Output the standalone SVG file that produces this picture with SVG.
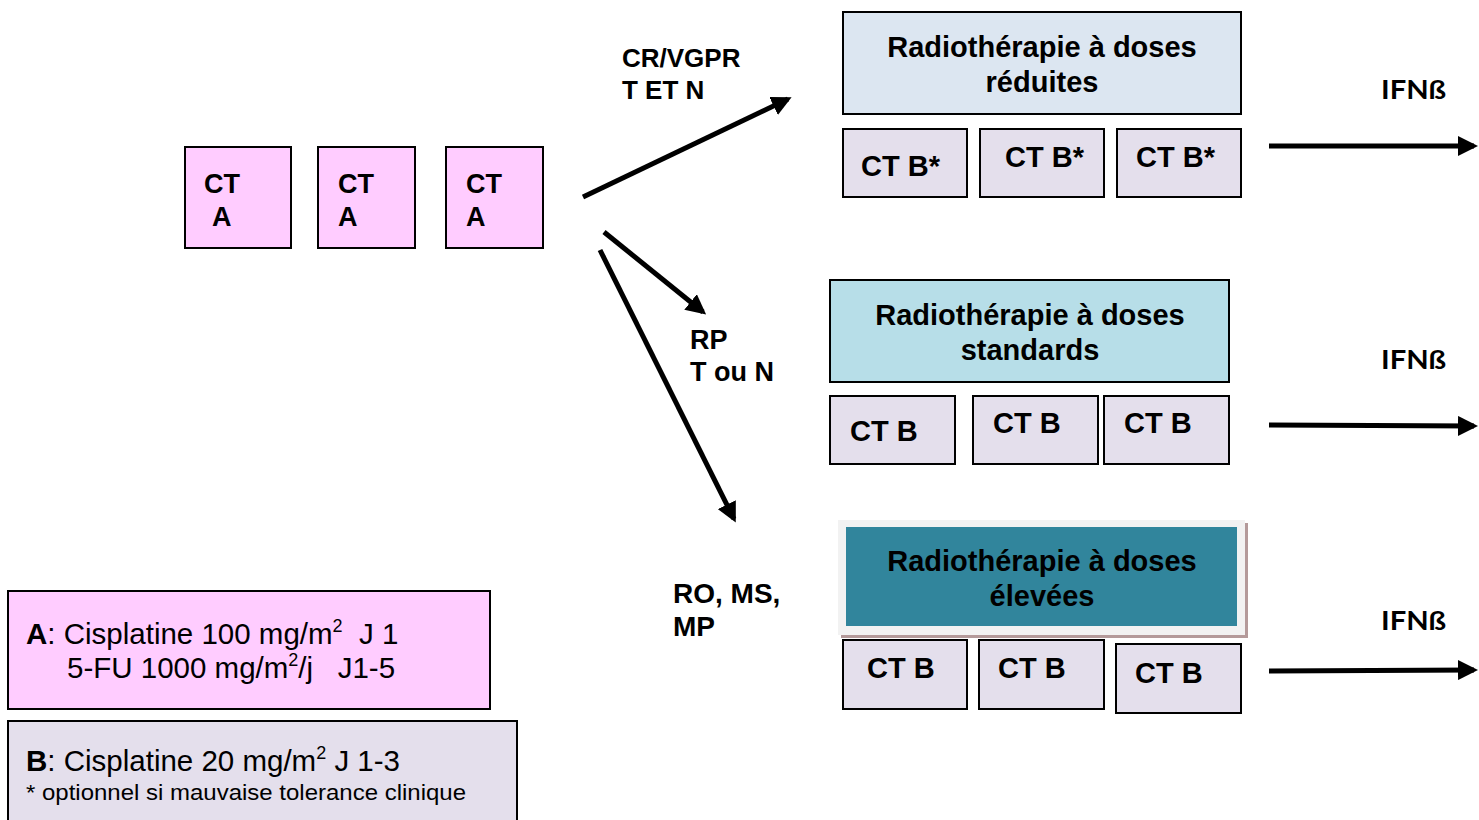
<svg xmlns="http://www.w3.org/2000/svg" width="1479" height="820" viewBox="0 0 1479 820">
<style>
.b{stroke:#000;stroke-width:2}
.pk{fill:#ffccff}
.lv{fill:#e4dfec}
.t{font-family:"Liberation Sans",Arial,sans-serif;font-weight:bold;fill:#000}
.big{font-size:29px}
.cta{font-size:27px}
.leg{font-family:"Liberation Sans",Arial,sans-serif;font-size:29.5px;fill:#000;white-space:pre}
.note{font-family:"Liberation Sans",Arial,sans-serif;font-size:22px;fill:#000}
.ifn{font-family:Lato,"DejaVu Sans",sans-serif;font-weight:bold;font-size:27px;fill:#000}
.ar{stroke:#000;stroke-width:5;fill:none}
</style>
<defs>
<marker id="ah" viewBox="0 0 10 10" refX="8" refY="5" markerWidth="4" markerHeight="4" markerUnits="strokeWidth" orient="auto">
<path d="M0,0 L10,5 L0,10 z" fill="#000"/>
</marker>
</defs>
<rect width="1479" height="820" fill="#fff"/>

<g id="ctA1"><rect class="b pk" x="185" y="147" width="106" height="101"/><text class="t cta" x="204" y="193">CT</text><text class="t cta" x="212" y="226">A</text></g>
<g id="ctA2"><rect class="b pk" x="318" y="147" width="97" height="101"/><text class="t cta" x="338" y="193">CT</text><text class="t cta" x="338" y="226">A</text></g>
<g id="ctA3"><rect class="b pk" x="446" y="147" width="97" height="101"/><text class="t cta" x="466" y="193">CT</text><text class="t cta" x="466" y="226">A</text></g>

<g id="rt-reduites"><rect class="b" x="843" y="12" width="398" height="102" fill="#dce6f1"/><text class="t big" x="1042" y="57" text-anchor="middle">Radiothérapie à doses</text><text class="t big" x="1042" y="92" text-anchor="middle">réduites</text></g>
<g id="ctB1a"><rect class="b lv" x="843" y="129" width="124" height="68"/><text class="t big" x="861" y="176">CT B*</text></g>
<g id="ctB1b"><rect class="b lv" x="980" y="129" width="124" height="68"/><text class="t big" x="1005" y="167">CT B*</text></g>
<g id="ctB1c"><rect class="b lv" x="1117" y="129" width="124" height="68"/><text class="t big" x="1136" y="167">CT B*</text></g>

<g id="rt-standards"><rect class="b" x="830" y="280" width="399" height="102" fill="#b7dee8"/><text class="t big" x="1030" y="325" text-anchor="middle">Radiothérapie à doses</text><text class="t big" x="1030" y="360" text-anchor="middle">standards</text></g>
<g id="ctB2a"><rect class="b lv" x="830" y="396" width="125" height="68"/><text class="t big" x="850" y="441">CT B</text></g>
<g id="ctB2b"><rect class="b lv" x="973" y="396" width="125" height="68"/><text class="t big" x="993" y="433">CT B</text></g>
<g id="ctB2c"><rect class="b lv" x="1104" y="396" width="125" height="68"/><text class="t big" x="1124" y="433">CT B</text></g>

<g id="rt-elevees">
<rect x="841" y="523" width="407" height="115" fill="#b49a9a"/>
<rect x="838" y="520" width="407" height="115" fill="#f2f2f2"/>
<rect x="846" y="527" width="391" height="99" fill="#31859c"/>
<text class="t big" x="1042" y="571" text-anchor="middle">Radiothérapie à doses</text><text class="t big" x="1042" y="606" text-anchor="middle">élevées</text></g>
<g id="ctB3a"><rect class="b lv" x="843" y="640" width="124" height="69"/><text class="t big" x="867" y="678">CT B</text></g>
<g id="ctB3b"><rect class="b lv" x="979" y="640" width="125" height="69"/><text class="t big" x="998" y="678">CT B</text></g>
<g id="ctB3c"><rect class="b lv" x="1116" y="644" width="125" height="69"/><text class="t big" x="1135" y="683">CT B</text></g>

<g id="legendA"><rect class="b pk" x="8" y="591" width="482" height="118"/>
<text class="leg" x="26" y="644" xml:space="preserve"><tspan font-weight="bold">A</tspan>: Cisplatine 100 mg/m<tspan style="font-size:18px" dy="-12">2</tspan><tspan dy="12">  J 1</tspan></text>
<text class="leg" x="67" y="678" xml:space="preserve">5-FU 1000 mg/m<tspan style="font-size:18px" dy="-12">2</tspan><tspan dy="12">/j   J1-5</tspan></text></g>
<g id="legendB"><rect class="b lv" x="8" y="721" width="509" height="110"/>
<text class="leg" x="26" y="771" xml:space="preserve"><tspan font-weight="bold">B</tspan>: Cisplatine 20 mg/m<tspan style="font-size:18px" dy="-12">2</tspan><tspan dy="12"> J 1-3</tspan></text>
<text class="note" x="26" y="800" textLength="440" lengthAdjust="spacingAndGlyphs">* optionnel si mauvaise tolerance clinique</text></g>

<g id="labels">
<text class="t" font-size="26" x="622" y="67">CR/VGPR</text><text class="t" font-size="26" x="622" y="99">T ET N</text>
<text class="t" font-size="27" x="690" y="349">RP</text><text class="t" font-size="27" x="690" y="381">T ou N</text>
<text class="t" font-size="28" x="673" y="603">RO, MS,</text><text class="t" font-size="28" x="673" y="636">MP</text>
<text class="ifn" x="1381" y="99" textLength="65" lengthAdjust="spacingAndGlyphs">IFNß</text>
<text class="ifn" x="1381" y="369" textLength="65" lengthAdjust="spacingAndGlyphs">IFNß</text>
<text class="ifn" x="1381" y="630" textLength="65" lengthAdjust="spacingAndGlyphs">IFNß</text>
</g>

<g id="connectors">
<line class="ar" x1="583" y1="197" x2="788" y2="99" marker-end="url(#ah)"/>
<line class="ar" x1="604" y1="232" x2="703" y2="312" marker-end="url(#ah)"/>
<line class="ar" x1="600" y1="250" x2="734" y2="519" marker-end="url(#ah)"/>
<line class="ar" x1="1269" y1="146" x2="1474" y2="146" marker-end="url(#ah)"/>
<line class="ar" x1="1269" y1="425" x2="1474" y2="426" marker-end="url(#ah)"/>
<line class="ar" x1="1269" y1="671" x2="1474" y2="670" marker-end="url(#ah)"/>
</g>
</svg>
